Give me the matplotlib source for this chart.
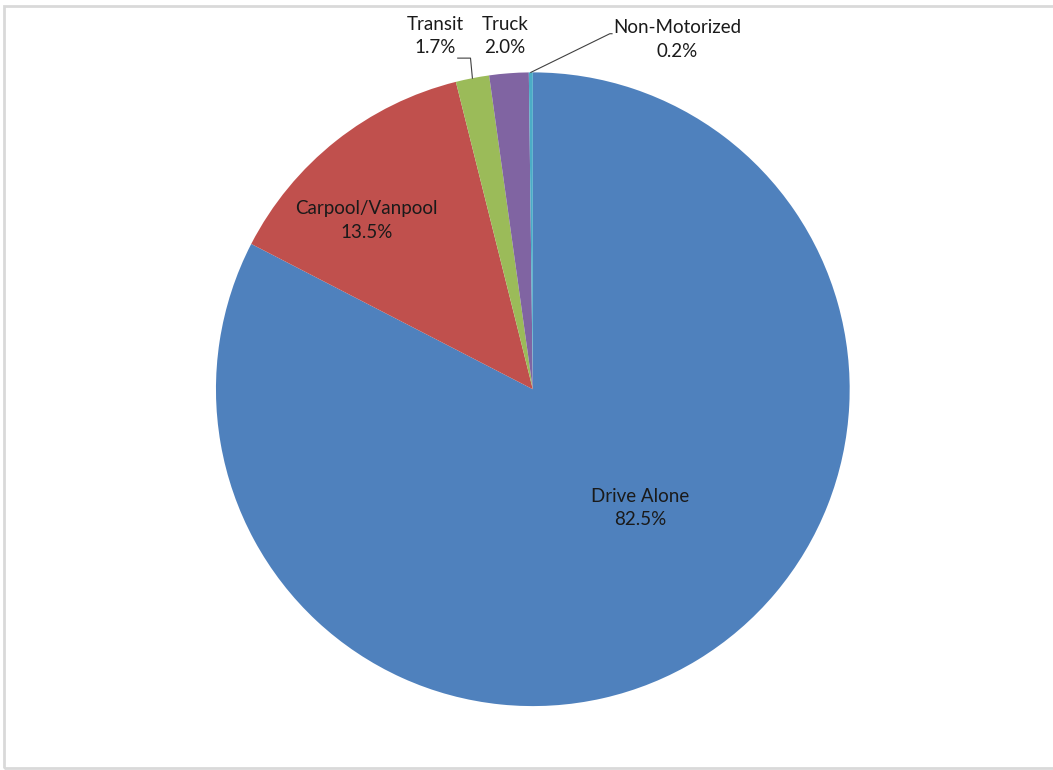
import numpy as np
import matplotlib.pyplot as plt
from matplotlib.patches import Rectangle

modes = ["Drive Alone", "Carpool/Vanpool", "Transit", "Truck", "Non-Motorized"]
shares = [82.5, 13.5, 1.7, 2.0, 0.2]
colors = ["#4F81BD", "#C0504D", "#9BBB59", "#8064A2", "#4BACC6"]

# label positions (data units, pie radius = 1)
label_pos = [(0.34, -0.375), (-0.524, 0.533), (-0.309, 1.114), (-0.088, 1.114), (0.457, 1.104)]

plt.rcParams["font.family"] = ["Lato", "DejaVu Sans"]

fig = plt.figure(figsize=(10.53, 7.70), dpi=100)
fig.patches.append(Rectangle((4 / 1053, 2 / 770), 1052 / 1053, 762 / 770,
                             transform=fig.transFigure, fill=False,
                             edgecolor="#D9D9D9", linewidth=2))

ax = fig.add_axes([0.205, 0.083, 0.602, 0.823])
wedges, _ = ax.pie(shares, colors=colors, startangle=90, counterclock=False,
                   radius=1, wedgeprops=dict(linewidth=0))
ax.set_xlim(-1, 1)
ax.set_ylim(-1, 1)
ax.set_aspect("equal")
ax.axis("off")

for name, val, (x, y) in zip(modes, shares, label_pos):
    ax.text(x, y, f"{name}\n{val:.1f}%", ha="center", va="center",
            fontsize=13.5, color="#1a1a1a", linespacing=1.45)

# leader lines for the two thin slices
def mid_point(w, r=1.0):
    a = np.deg2rad((w.theta1 + w.theta2) / 2)
    return r * np.cos(a), r * np.sin(a)

tx, ty = mid_point(wedges[2])
ax.plot([tx, tx - 0.006, -0.237], [ty, 1.045, 1.045], color="#404040", lw=0.8,
        clip_on=False)
nx, ny = mid_point(wedges[4])
ax.plot([nx, 0.243, 0.25], [ny, 1.122, 1.122], color="#404040", lw=0.8,
        clip_on=False)

plt.savefig("out.png", dpi=100)
